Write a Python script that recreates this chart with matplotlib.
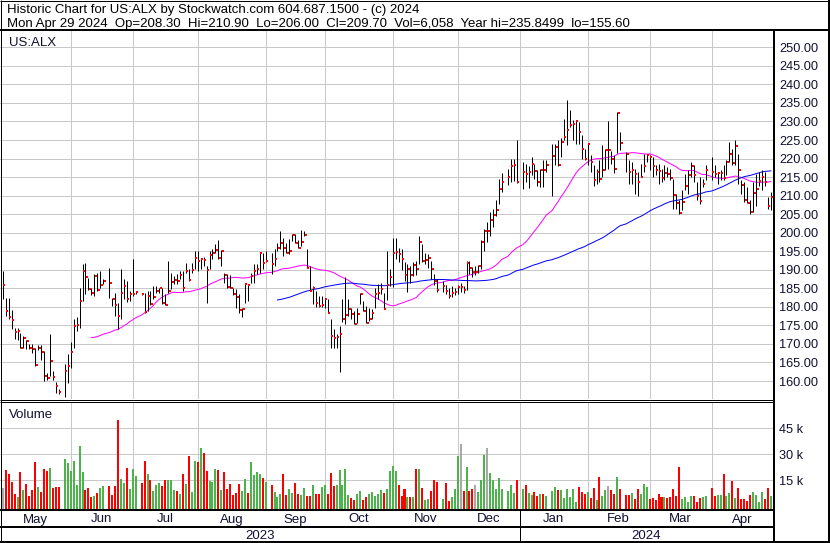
import numpy as np
import pandas as pd
import matplotlib
matplotlib.use('Agg')
import matplotlib.pyplot as plt

plt.rcParams['font.family'] = ['Liberation Sans', 'DejaVu Sans']

# ---------------- data ----------------
first_day = '2023-05-01'
last_day = '2024-04-29'
holidays = ['2023-05-29', '2023-06-19', '2023-07-04', '2023-09-04', '2023-11-23',
            '2023-12-25', '2024-01-01', '2024-01-15', '2024-02-19', '2024-03-29']

high = [
    # May 2023
    189.6, 182.3, 182.3, 179.1, 174.4, 174.4, 173.0, 172.1, 171.0, 170.0, 170.1, 169.0, 169.6, 169.8, 168.0, 162.2, 172.6, 162.7, 159.8, 157.8, 164.5, 167.4,
    # Jun
    170.6, 176.6, 177.3, 185.2, 191.6, 191.9, 187.9, 185.2, 188.8, 189.2, 189.6, 187.4, 190.5, 182.5, 183.8, 181.1, 190.1, 187.4, 187.0, 184.3, 192.8,
    # Jul
    184.3, 183.8, 183.8, 184.3, 184.3, 185.6, 185.6, 185.2, 185.2, 183.4, 192.5, 189.2, 188.3, 188.8, 189.6, 189.6, 191.9, 190.3, 191.9, 195.0,
    # Aug
    195.0, 193.0, 193.5, 191.0, 195.1, 195.5, 196.9, 198.0, 195.3, 189.2, 188.9, 188.5, 185.2, 184.7, 183.4, 179.8, 186.5, 186.2, 189.2, 191.5, 191.5, 194.8, 194.6,
    # Sep
    195.1, 194.6, 195.5, 197.3, 200.4, 198.7, 197.3, 198.2, 199.6, 199.6, 198.0, 200.7, 200.4, 195.5, 191.0, 185.6, 184.3, 182.9, 182.8, 182.5,
    # Oct
    182.0, 176.6, 173.9, 172.6, 174.8, 182.0, 188.0, 182.0, 179.8, 178.9, 179.8, 183.8, 181.6, 180.2, 179.8, 179.3, 185.2, 186.1, 186.5, 183.8, 195.1, 190.1,
    # Nov
    198.5, 198.6, 196.0, 195.7, 192.0, 191.5, 191.0, 192.0, 192.5, 199.2, 196.9, 194.5, 194.3, 192.5, 188.9, 187.5, 187.0, 186.0, 185.0, 185.6, 185.1,
    # Dec
    186.0, 186.5, 185.5, 192.5, 192.5, 190.7, 191.0, 191.3, 197.9, 201.0, 203.0, 205.5, 206.4, 208.7, 214.5, 216.0, 217.3, 220.0, 220.0, 224.9,
    # Jan 2024
    219.1, 218.6, 217.9, 220.4, 218.6, 216.8, 217.3, 219.5, 219.5, 224.0, 224.0, 224.9, 225.5, 230.8, 235.85, 233.0, 230.3, 230.3, 229.9, 226.3, 222.7,
    # Feb
    224.0, 221.0, 218.2, 217.3, 219.5, 223.6, 222.7, 230.2, 222.0, 221.0, 232.6, 227.2, 221.8, 219.5, 219.1, 217.3, 216.4, 218.6, 221.3, 221.3,
    # Mar
    220.9, 220.4, 218.2, 218.6, 217.3, 218.2, 217.7, 217.3, 214.5, 210.5, 208.7, 211.4, 215.9, 216.8, 219.1, 218.2, 213.6, 215.0, 214.5, 218.2,
    # Apr
    220.4, 218.2, 216.4, 216.8, 218.2, 219.5, 224.5, 222.7, 224.9, 221.3, 214.1, 213.6, 212.3, 208.7, 213.6, 215.9, 216.4, 216.8, 216.4, 209.6, 210.9,
]

low = [
    182.0, 177.5, 176.6, 174.1, 171.2, 171.0, 168.8, 169.0, 168.7, 168.6, 167.6, 164.0, 168.3, 165.8, 160.0, 160.3, 161.3, 160.4, 156.9, 156.6, 155.6, 159.6,
    163.6, 168.9, 173.5, 174.4, 181.5, 183.4, 184.6, 183.3, 182.9, 184.3, 185.0, 186.1, 182.4, 180.2, 177.5, 174.1, 176.6, 182.0, 181.3, 181.5, 182.9,
    183.4, 183.1, 178.4, 178.8, 180.6, 182.2, 183.8, 183.7, 180.7, 180.5, 183.8, 184.7, 186.1, 186.1, 187.4, 184.3, 189.2, 187.0, 189.2, 190.1,
    189.6, 190.1, 191.0, 181.1, 190.1, 192.8, 194.6, 193.0, 191.0, 186.5, 185.2, 185.0, 183.1, 179.8, 178.4, 177.3, 181.1, 181.6, 186.5, 186.5, 188.8, 189.2, 190.1,
    192.2, 188.8, 191.0, 195.1, 195.5, 193.7, 194.6, 194.2, 197.8, 197.1, 196.0, 196.4, 199.1, 190.6, 184.3, 180.7, 180.0, 180.0, 180.0, 179.8,
    178.3, 169.0, 169.0, 169.0, 162.5, 175.8, 175.3, 177.5, 176.6, 175.5, 175.7, 180.7, 178.8, 175.7, 176.2, 176.6, 179.8, 182.0, 183.4, 179.3, 181.8, 185.6,
    185.3, 193.0, 192.0, 190.0, 187.1, 183.9, 186.5, 188.4, 188.5, 191.5, 192.0, 191.5, 190.5, 187.6, 186.0, 184.0, 184.0, 183.4, 182.5, 182.6, 183.2,
    183.5, 184.0, 183.8, 184.5, 188.9, 188.0, 188.5, 189.0, 190.1, 195.2, 197.5, 199.0, 201.5, 204.5, 207.8, 211.0, 213.0, 213.6, 214.0, 213.5,
    211.8, 213.6, 212.1, 215.5, 214.5, 212.7, 212.3, 212.3, 216.4, 210.0, 218.2, 217.9, 220.5, 225.1, 223.6, 228.5, 225.0, 224.0, 224.0, 220.0, 219.5,
    218.2, 216.5, 212.7, 213.2, 213.6, 215.0, 217.0, 217.2, 218.5, 216.0, 221.5, 222.2, 216.4, 213.2, 213.2, 210.5, 210.0, 215.0, 216.4, 219.1,
    216.8, 215.0, 215.5, 213.2, 213.6, 214.1, 215.0, 214.1, 206.4, 206.5, 205.1, 206.0, 211.5, 210.5, 215.0, 213.6, 208.7, 207.8, 212.3, 214.1,
    214.1, 215.0, 213.2, 214.1, 214.1, 215.5, 219.1, 218.2, 218.2, 213.2, 210.5, 208.2, 208.0, 205.1, 205.5, 207.3, 212.7, 211.4, 212.7, 206.4, 206.0,
]

close = [
    185.9, 178.9, 177.3, 176.4, 173.2, 173.4, 168.9, 171.6, 170.7, 168.9, 168.7, 164.2, 169.0, 167.8, 161.3, 160.7, 165.4, 161.1, 158.7, 157.0, 162.7, 164.0,
    167.8, 174.8, 175.2, 181.7, 189.6, 188.0, 184.9, 183.8, 188.3, 184.5, 186.0, 186.9, 186.5, 182.0, 180.5, 177.5, 183.8, 185.6, 182.0, 183.4, 183.6,
    184.1, 183.6, 178.6, 182.9, 180.7, 182.7, 184.3, 185.0, 181.1, 180.6, 184.3, 186.7, 187.3, 186.9, 188.6, 185.2, 189.6, 187.3, 189.9, 193.1,
    192.3, 192.8, 192.6, 189.9, 194.0, 194.6, 195.3, 193.2, 195.0, 188.5, 185.3, 185.1, 183.4, 182.7, 179.1, 179.3, 186.2, 185.8, 188.2, 189.8, 190.3, 194.4, 191.9,
    192.5, 191.6, 192.8, 196.0, 197.1, 196.0, 194.6, 195.0, 199.4, 197.1, 196.0, 197.5, 199.4, 190.6, 184.3, 185.2, 181.0, 180.2, 180.4, 182.0,
    178.3, 172.1, 171.6, 172.0, 172.6, 176.6, 177.8, 179.3, 178.1, 175.5, 178.2, 183.4, 178.8, 175.7, 176.6, 178.4, 183.4, 183.8, 184.7, 179.3, 185.8, 188.0,
    194.5, 194.8, 194.3, 192.8, 188.6, 190.1, 188.6, 191.2, 190.1, 197.5, 192.5, 192.7, 193.2, 190.1, 187.0, 184.6, 185.5, 184.4, 182.9, 183.7, 184.0,
    185.3, 185.3, 184.6, 191.9, 190.4, 189.3, 189.3, 191.1, 197.6, 200.4, 200.4, 203.5, 204.9, 206.2, 211.9, 213.6, 214.9, 217.9, 218.2, 213.6,
    216.3, 215.8, 216.3, 218.4, 216.7, 213.7, 217.0, 216.8, 218.3, 220.7, 223.1, 218.3, 224.5, 225.8, 227.6, 229.1, 229.3, 230.0, 227.2, 222.5, 219.8,
    223.8, 219.0, 214.1, 216.5, 214.5, 216.8, 222.2, 222.2, 220.0, 217.2, 232.4, 224.3, 221.3, 216.5, 217.0, 215.9, 213.8, 215.0, 217.9, 220.9,
    220.5, 217.9, 216.8, 216.6, 214.8, 216.2, 215.9, 214.8, 210.3, 208.1, 205.3, 208.2, 212.6, 215.6, 217.9, 215.5, 209.8, 208.5, 213.2, 217.0,
    216.5, 215.9, 216.0, 216.2, 214.8, 219.2, 221.3, 218.9, 223.3, 216.8, 213.0, 208.7, 208.0, 205.5, 210.7, 211.7, 213.9, 215.0, 213.6, 207.1, 209.7,
]

volume_k = [
    10.1, 20.8, 18.5, 13.8, 6.8, 5.1, 19.7, 9.2, 12.7, 5.6, 9.2, 25.5, 10.9, 8.0, 21.4, 20.3, 22.0, 10.3, 10.9, 10.9, 27.3, 24.9,
    20.3, 26.1, 12.1, 34.9, 19.7, 9.2, 10.3, 5.1, 5.6, 7.4, 10.3, 11.5, 11.5, 6.2, 11.5, 49.5, 15.6, 13.2, 22.0, 9.7, 21.4,
    17.3, 13.2, 26.1, 18.5, 15.0, 8.6, 12.1, 13.2, 11.5, 15.0, 15.0, 15.0, 9.2, 8.6, 6.8, 18.5, 12.7, 29.0, 8.0, 26.1,
    25.5, 33.7, 30.8, 20.3, 14.4, 13.8, 21.4, 20.8, 9.2, 19.7, 9.7, 12.7, 6.2, 7.4, 12.7, 8.6, 15.6, 7.4, 25.5, 17.9, 19.7, 18.5, 16.2,
    14.0, 12.1, 8.0, 5.1, 6.8, 18.5, 6.2, 9.7, 7.4, 13.2, 6.8, 6.2, 10.3, 5.6, 5.6, 12.1, 6.8, 6.8, 10.9, 12.1,
    6.8, 19.1, 11.5, 12.1, 20.8, 12.1, 21.4, 6.2, 4.5, 3.3, 6.8, 8.6, 3.3, 5.1, 6.8, 8.0, 5.6, 6.8, 9.2, 7.4, 9.7, 20.3,
    23.2, 20.3, 12.1, 5.6, 9.7, 5.1, 5.1, 5.1, 21.4, 21.4, 10.3, 3.3, 3.9, 8.6, 15.0, 13.8, 3.9, 13.2, 2.7, 5.1, 9.7,
    29.0, 36.0, 8.6, 22.6, 8.6, 9.7, 12.1, 8.0, 15.0, 29.6, 33.7, 19.1, 15.0, 9.7, 16.2, 9.7, 8.6, 12.1, 7.4, 15.0,
    9.7, 12.1, 7.4, 6.2, 8.0, 5.6, 6.8, 6.8, 5.6, 8.6, 10.9, 9.0, 9.2, 4.5, 9.7, 5.1, 9.7, 2.1, 10.9, 8.0, 6.8,
    8.0, 4.5, 10.3, 3.3, 16.8, 5.6, 9.2, 11.5, 9.2, 6.8, 16.8, 9.7, 6.2, 6.2, 7.4, 3.9, 9.7, 6.8, 12.7, 10.9,
    3.9, 4.5, 3.3, 6.8, 5.1, 5.1, 4.5, 5.1, 9.7, 5.6, 22.6, 3.9, 5.1, 2.1, 5.6, 5.6, 2.1, 4.5, 5.1, 5.6,
    10.3, 5.6, 6.2, 6.2, 18.5, 5.6, 7.4, 14.4, 4.5, 10.3, 3.9, 3.9, 2.7, 6.2, 8.0, 6.2, 2.1, 8.0, 3.9, 10.3, 6.058,
]

month_labels = ['May', 'Jun', 'Jul', 'Aug', 'Sep', 'Oct', 'Nov', 'Dec', 'Jan', 'Feb', 'Mar', 'Apr']
year_labels = ['2023', '2024']
price_ticks = list(range(160, 251, 5))
volume_ticks = [15, 30, 45]
title_line1 = 'Historic Chart for US:ALX by Stockwatch.com 604.687.1500 - (c) 2024'
title_line2 = ('Mon Apr 29 2024  Op=208.30  Hi=210.90  Lo=206.00  Cl=209.70  '
               'Vol=6,058  Year hi=235.8499  lo=155.60')

# ---------------- positions from the calendar ----------------
wd = np.arange(np.datetime64(first_day), np.datetime64(last_day) + 1, dtype='datetime64[D]')
wd = wd[np.is_busday(wd)]
hol = np.array(holidays, dtype='datetime64[D]')
tdays = wd[~np.isin(wd, hol)]
x = np.searchsorted(wd, tdays).astype(float)

high = np.array(high); low = np.array(low); close = np.array(close)
vol = np.array(volume_k)
n = min(len(x), len(close), len(high), len(low), len(vol))
x, high, low, close, vol = x[:n], high[:n], low[:n], close[:n], vol[:n]

bounds = []
for m in pd.date_range('2023-06-01', '2024-04-01', freq='MS'):
    d = np.datetime64(m.date(), 'D')
    idx = int(np.searchsorted(wd, d))
    if not np.is_busday(d):
        idx -= 1
    bounds.append(idx)

W, H = 830, 543
PX = 0.72  # points per pixel at 100 dpi
SLOT = 2.954
X0 = 2.76
xmin = -X0 / SLOT
xmax = (773 - X0) / SLOT

fig = plt.figure(figsize=(W / 100, H / 100), dpi=100)


def rect(x0, y0, x1, y1):
    return [x0 / W, 1 - y1 / H, (x1 - x0) / W, (y1 - y0) / H]


grid_c = '#c8c8c8'
txt_c = '#101030'
ax = fig.add_axes(rect(0, 31, 773, 399))
axv = fig.add_axes(rect(0, 402, 773, 509))

for a in (ax, axv):
    a.set_xlim(xmin, xmax)
    a.set_xticks(bounds)
    a.tick_params(axis='x', length=0, labelbottom=False)
    a.yaxis.tick_right()
    a.tick_params(axis='y', length=0, pad=4.3, labelsize=9.2, labelcolor=txt_c)
    for s in a.spines.values():
        s.set_visible(False)
    a.grid(True, color=grid_c, lw=1 * PX)
    a.set_axisbelow(True)

# price panel
ax.set_ylim(155.15, 254.4)
ax.set_yticks(price_ticks)
ax.set_yticklabels([f'{t:.2f}' for t in price_ticks])
ax.vlines(x, low, high, color='black', lw=1.0 * PX, zorder=3)
ax.plot(x + 0.5, close, ls='none', marker='s', ms=2 * PX, mew=0, color='#ff0000', zorder=4)
cs = pd.Series(close)
ma30 = cs.rolling(30).mean().values
ma90 = cs.rolling(90).mean().values
ax.plot(x, ma30, color='#ff00ff', lw=1.0 * PX, zorder=2.5)
ax.plot(x, ma90, color='#0000ff', lw=1.0 * PX, zorder=2.5)
ax.text(9 / 773, 1 - 15 / 368, 'US:ALX', transform=ax.transAxes, fontsize=9.5,
        ha='left', va='baseline', color=txt_c)

# volume panel
vbot = -1.73
axv.set_ylim(vbot, 60)
axv.set_yticks(volume_ticks)
axv.set_yticklabels([f'{t} k' for t in volume_ticks])
diff = np.diff(close, prepend=close[0])
cols = np.where(diff > 0, '#4db34d', np.where(diff < 0, '#ff0000', '#a8a8a8'))
axv.bar(x, vol - vbot, bottom=vbot, width=0.68, color=cols, linewidth=0, zorder=3)
axv.text(9 / 773, 1 - 16 / 107, 'Volume', transform=axv.transAxes, fontsize=9.5,
         ha='left', va='baseline', color=txt_c)

# overlay for frame lines and captions (pixel coordinates)
ov = fig.add_axes([0, 0, 1, 1], facecolor='none')
ov.set_xlim(0, W)
ov.set_ylim(H, 0)
ov.axis('off')


def hline(y, x0, x1, w=1):
    ov.plot([x0, x1], [y, y], color='black', lw=w * PX, solid_capstyle='butt')


def vline(xp, y0, y1, w=1):
    ov.plot([xp, xp], [y0, y1], color='black', lw=w * PX, solid_capstyle='butt')


hline(0.5, 0, W)
hline(29.5, 0, W, 2)
hline(399.5, 0, 774)
hline(401.5, 0, 774)
hline(509.5, 0, 774, 2)
hline(526.5, 0, 774, 2)
hline(541.5, 0, W, 2)
vline(0.5, 0, H)
vline(828.5, 0, H, 2)
vline(773.8, 29, 542, 2)


def to_px(s):
    return X0 + SLOT * s


edges = [xmin] + bounds + [xmax]
for i, lab in enumerate(month_labels):
    c = (to_px(edges[i]) + to_px(edges[i + 1])) / 2
    ov.text(c, 522.5, lab, ha='center', va='baseline', fontsize=9.5, color=txt_c)

jan = bounds[7]
vline(to_px(jan) + 0.3, 510, 541)
ov.text((0 + to_px(jan)) / 2, 539, year_labels[0], ha='center', va='baseline', fontsize=9.5, color=txt_c)
ov.text((to_px(jan) + 773) / 2, 539, year_labels[1], ha='center', va='baseline', fontsize=9.5, color=txt_c)

TS = 9.5
ov.text(6.7, 13, title_line1, ha='left', va='baseline', fontsize=TS, color='black')
ov.text(7, 27, title_line2, ha='left', va='baseline', fontsize=TS, color='black')

fig.savefig('out.png', dpi=100)
